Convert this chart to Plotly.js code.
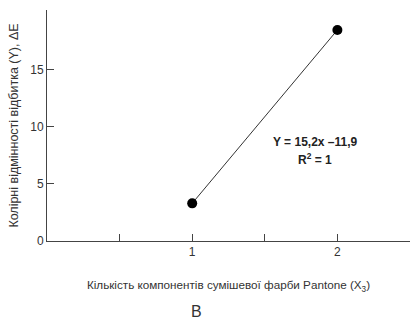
<!DOCTYPE html>
<html><head><meta charset="utf-8">
<script src="https://cdn.plot.ly/plotly-3.0.1.min.js"></script>
<style>html,body{margin:0;padding:0;background:#fff}#chart{width:412px;height:327px}</style>
</head><body><div id="chart"></div>
<script>
const xValues = [1, 2];
const yValues = [3.3, 18.5];
const xTickVals = [1, 2];
const xTickText = ['1', '2'];
const xMinorTickVals = [0.5, 1.5];
const yTickVals = [0, 5, 10, 15];
const equationText = 'Y = 15,2x –11,9';
const r2Text = 'R<sup>2</sup> = 1';
const xTitle = 'Кількість компонентів сумішевої фарби Pantone (X<sub>3</sub>)';
const yTitle = 'Колірні відмінності відбитка (Y), ΔE';
const panelLabel = 'B';

const font = 'Liberation Sans, Arial, sans-serif';
const trace = {
  x: xValues, y: yValues, type: 'scatter', mode: 'lines+markers',
  line: {color: '#333', width: 1},
  marker: {color: '#000', size: 10},
  cliponaxis: false
};
const layout = {
  width: 412, height: 327,
  margin: {l: 47, r: 2, t: 10, b: 86},
  paper_bgcolor: '#fff', plot_bgcolor: '#fff',
  showlegend: false,
  font: {family: font, color: '#333', size: 11},
  xaxis: {
    range: [0, 2.5], showgrid: false, zeroline: false,
    showline: true, linecolor: '#444', linewidth: 1,
    ticks: 'inside', ticklen: 7, tickcolor: '#444',
    tickvals: xTickVals, ticktext: xTickText,
    minor: {tickvals: xMinorTickVals, ticks: 'inside', ticklen: 7, tickcolor: '#444', showgrid: false},
    tickfont: {size: 12, color: '#333'},
    title: {text: xTitle, font: {size: 11.7, color: '#333'}, standoff: 22}
  },
  yaxis: {
    range: [0, 20.25], showgrid: false, zeroline: false,
    showline: true, linecolor: '#444', linewidth: 1,
    ticks: 'inside', ticklen: 7, tickcolor: '#444',
    tickvals: yTickVals,
    tickfont: {size: 12, color: '#333'},
    title: {text: yTitle, font: {size: 12.5, color: '#333'}, standoff: 8}
  },
  annotations: [
    {xref: 'paper', yref: 'paper', x: (315-47)/363, y: (241-142)/231, text: '<b>' + equationText + '</b>', showarrow: false, font: {size: 12, color: '#222'}, xanchor: 'center', yanchor: 'middle'},
    {xref: 'paper', yref: 'paper', x: (315-47)/363, y: (241-159)/231, text: '<b>' + r2Text + '</b>', showarrow: false, font: {size: 12, color: '#222'}, xanchor: 'center', yanchor: 'middle'},
    {xref: 'paper', yref: 'paper', x: (196-47)/363, y: (241-311)/231, text: panelLabel, showarrow: false, font: {size: 16, color: '#333'}, xanchor: 'center', yanchor: 'middle'}
  ]
};
Plotly.newPlot('chart', [trace], layout, {displayModeBar: false, staticPlot: true});
</script></body></html>
